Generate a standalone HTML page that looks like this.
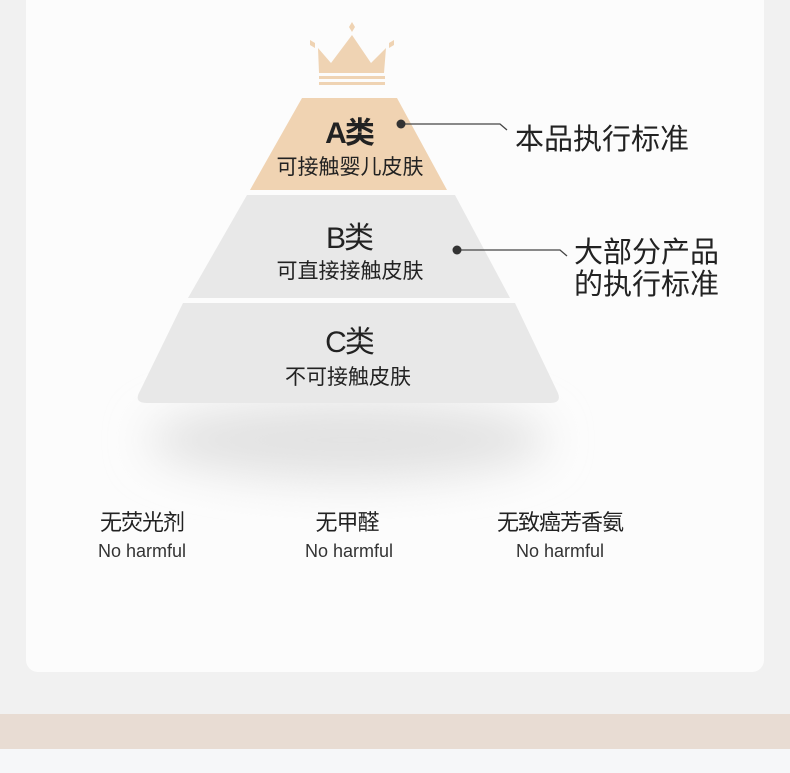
<!DOCTYPE html>
<html><head><meta charset="utf-8"><style>
body{margin:0;width:790px;height:773px;background:#f1f1f1;position:relative;overflow:hidden;font-family:"Liberation Sans","Noto Sans CJK SC",sans-serif;color:#222}
.card{position:absolute;left:26px;top:-20px;width:738px;height:692px;background:#fcfcfc;border-radius:12px}
.band{position:absolute;left:0;top:714px;width:790px;height:35px;background:#e8dcd3}
.bot{position:absolute;left:0;top:749px;width:790px;height:24px;background:#f6f7f9}
.t{position:absolute;white-space:nowrap;transform:translateX(-50%)}
.r{position:absolute;white-space:nowrap}
</style></head><body>
<div class="card"></div>
<div class="band"></div><div class="bot"></div>
<svg width="790" height="773" style="position:absolute;left:0;top:0">
<defs><filter id="b" x="-50%" y="-50%" width="200%" height="200%"><feGaussianBlur stdDeviation="22"/></filter></defs>
<ellipse cx="348" cy="440" rx="200" ry="40" fill="#e2e2e2" filter="url(#b)"/>
<!-- crown -->
<g fill="#efd3b3">
<polygon points="318,48 331,63 352,35 371,63 386,48 384,73 319,73"/>
<rect x="319" y="76" width="66" height="3"/><rect x="319" y="82" width="66" height="3"/>
<polygon points="352,22 355,27 352,32 349,27"/>
<polygon points="310,40 315,43 315,48 310,45"/><polygon points="394,40 389,43 389,48 394,45"/>
</g>
<polygon points="302,98 397,98 447,190 250,190" fill="#f0d3b2"/>
<polygon points="247,195 455,195 510,298 188,298" fill="#e8e8e8"/>
<path d="M183,303 L515,303 L557,391 Q563,403 550,403 L147,403 Q133,403 140,391 Z" fill="#e8e8e8"/>
<g stroke="#444" stroke-width="1.3" fill="none">
<polyline points="401,124 500,124 507,130"/>
<polyline points="457,250 560,250 567,256"/>
</g>
<circle cx="401" cy="124" r="4.5" fill="#333"/>
<circle cx="457" cy="250" r="4.5" fill="#333"/>
</svg>
<div class="t" style="left:349px;top:108px;font-size:30px;font-weight:bold;letter-spacing:-2px">A类</div>
<div class="t" style="left:350px;top:151px;font-size:21px">可接触婴儿皮肤</div>
<div class="t" style="left:349px;top:213px;font-size:30px;letter-spacing:-2px">B类</div>
<div class="t" style="left:350px;top:255px;font-size:21px">可直接接触皮肤</div>
<div class="t" style="left:349px;top:317px;font-size:30px;letter-spacing:-2px">C类</div>
<div class="t" style="left:348px;top:361px;font-size:21px">不可接触皮肤</div>
<div class="r" style="left:515px;top:116px;font-size:29px">本品执行标准</div>
<div class="r" style="left:574px;top:237px;font-size:29px;line-height:32px">大部分产品<br>的执行标准</div>
<div class="t" style="left:142px;top:505px;font-size:22px;letter-spacing:-1px">无荧光剂</div>
<div class="t" style="left:347px;top:505px;font-size:22px;letter-spacing:-1px">无甲醛</div>
<div class="t" style="left:560px;top:505px;font-size:22px;letter-spacing:-1px">无致癌芳香氨</div>
<div class="t" style="left:142px;top:541px;font-size:18px;color:#333">No harmful</div>
<div class="t" style="left:349px;top:541px;font-size:18px;color:#333">No harmful</div>
<div class="t" style="left:560px;top:541px;font-size:18px;color:#333">No harmful</div>
</body></html>
